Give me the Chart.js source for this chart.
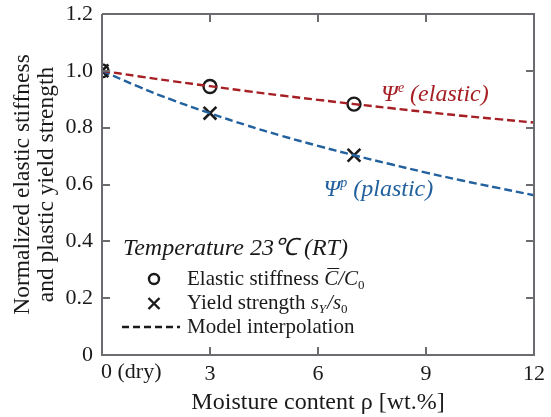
<!DOCTYPE html>
<html lang="en">
<head>
  <meta charset="UTF-8">
  <title>Moisture effect on stiffness and yield strength</title>
  <style>
    body { margin: 0; padding: 0; background: #fff; }
    #wrap { width: 551px; height: 417px; }
  </style>
  <script src="https://cdn.jsdelivr.net/npm/chart.js"></script>
</head>
<body>
  <div id="wrap"><canvas id="moistureChart" width="551" height="417"></canvas></div>

  <script>
    // measured points
    const measuredMoisture = [0, 3, 7];
    const elasticMeasured = [1.0, 0.945, 0.883];
    const yieldMeasured = [1.0, 0.851, 0.703];

    // model curves, sampled every 1 wt.%
    const modelMoisture = [0, 1, 2, 3, 4, 5, 6, 7, 8, 9, 10, 11, 12];
    const elasticModel = [1.0, 0.981, 0.963, 0.946, 0.929, 0.913, 0.898, 0.883, 0.869, 0.855, 0.842, 0.830, 0.818];
    const plasticModel = [1.0, 0.945, 0.895, 0.851, 0.809, 0.771, 0.736, 0.703, 0.672, 0.642, 0.614, 0.588, 0.562];

    const xTicks = [0, 3, 6, 9, 12];
    const yTicks = [0, 0.2, 0.4, 0.6, 0.8, 1.0, 1.2];

    const SERIF = '"Liberation Serif", "Times New Roman", serif';
    const RED = '#a61f24';
    const BLUE = '#23619e';
    const FRAME = 'rgb(108, 108, 112)';
    const INK = '#1a1a1a';

    const toXY = (xs, ys) => xs.map((x, i) => ({ x: x, y: ys[i] }));

    // box with inward ticks, "0 (dry)", curve labels and the key
    const notes = {
      id: 'notes',
      afterDraw(chart) {
        const g = chart.ctx;
        const a = chart.chartArea;
        const sx = chart.scales.x;
        const sy = chart.scales.y;
        const L = Math.round(a.left), R = Math.round(a.right);
        const T = Math.round(a.top), B = Math.round(a.bottom);
        const tl = 8;

        g.save();
        g.setLineDash([]);
        g.globalAlpha = 1;
        g.globalCompositeOperation = 'source-over';
        g.strokeStyle = FRAME;
        g.lineWidth = 2;
        g.beginPath();
        g.moveTo(L, T); g.lineTo(R, T); g.lineTo(R, B); g.lineTo(L, B); g.lineTo(L, T);
        xTicks.forEach(v => {
          const px = Math.round(sx.getPixelForValue(v));
          g.moveTo(px, B); g.lineTo(px, B - tl);
          g.moveTo(px, T); g.lineTo(px, T + tl);
        });
        yTicks.forEach(v => {
          const py = Math.round(sy.getPixelForValue(v));
          g.moveTo(L, py); g.lineTo(L + tl, py);
          g.moveTo(R, py); g.lineTo(R - tl, py);
        });
        g.stroke();

        g.fillStyle = INK;
        g.font = '22px ' + SERIF;
        g.textAlign = 'left';
        g.textBaseline = 'top';
        g.fillText('0 (dry)', sx.getPixelForValue(0) - 1, B + 6);

        // curve labels
        const psiLabel = (x, y, color, sup, word) => {
          g.fillStyle = color;
          g.textBaseline = 'alphabetic';
          g.textAlign = 'left';
          g.font = 'italic 24px ' + SERIF;
          g.fillText('\u03A8', x, y);
          let w = g.measureText('\u03A8').width;
          g.font = 'italic 14px ' + SERIF;
          g.fillText(sup, x + w, y - 9);
          w += g.measureText(sup).width + 6;
          g.font = 'italic 24px ' + SERIF;
          g.fillText(word, x + w, y);
        };
        psiLabel(sx.getPixelForValue(7.75), sy.getPixelForValue(0.893), RED, 'e', '(elastic)');
        psiLabel(sx.getPixelForValue(6.15), sy.getPixelForValue(0.558), BLUE, 'p', '(plastic)');

        // key
        g.fillStyle = INK;
        g.strokeStyle = INK;
        g.textBaseline = 'alphabetic';
        g.font = 'italic 24px ' + SERIF;
        g.fillText('Temperature 23\u2103 (RT)', 123, 255);

        const sym = 154;
        const txt = 187;
        g.lineWidth = 2.4;
        g.beginPath();
        g.arc(sym, 279, 5, 0, Math.PI * 2);
        g.stroke();
        g.beginPath();
        g.moveTo(sym - 5.5, 298); g.lineTo(sym + 5.5, 309);
        g.moveTo(sym + 5.5, 298); g.lineTo(sym - 5.5, 309);
        g.stroke();
        g.setLineDash([7, 4]);
        g.beginPath();
        g.moveTo(122, 327); g.lineTo(180, 327);
        g.stroke();
        g.setLineDash([]);

        g.font = '21px ' + SERIF;
        g.fillText('Elastic stiffness ', txt, 285);
        let w = g.measureText('Elastic stiffness ').width;
        g.font = 'italic 21px ' + SERIF;
        g.fillText('C', txt + w, 285);
        const cw = g.measureText('C').width;
        g.lineWidth = 1;
        g.beginPath();
        g.moveTo(txt + w + 3, 268.5); g.lineTo(txt + w + cw + 1, 268.5);
        g.stroke();
        g.fillText('/C', txt + w + cw, 285);
        w += cw + g.measureText('/C').width;
        g.font = '13px ' + SERIF;
        g.fillText('0', txt + w, 289);

        g.font = '21px ' + SERIF;
        g.fillText('Yield strength ', txt, 309);
        w = g.measureText('Yield strength ').width;
        g.font = 'italic 21px ' + SERIF;
        g.fillText('s', txt + w, 309);
        w += g.measureText('s').width;
        g.font = 'italic 13px ' + SERIF;
        g.fillText('Y', txt + w, 313);
        w += g.measureText('Y').width + 1;
        g.font = 'italic 21px ' + SERIF;
        g.fillText('/s', txt + w, 309);
        w += g.measureText('/s').width;
        g.font = '13px ' + SERIF;
        g.fillText('0', txt + w, 313);

        g.font = '21px ' + SERIF;
        g.fillText('Model interpolation', txt, 333);
        g.restore();
      }
    };

    const ctx = document.getElementById('moistureChart').getContext('2d');
    new Chart(ctx, {
      type: 'scatter',
      data: {
        datasets: [
          {
            label: 'Model elastic',
            data: toXY(modelMoisture, elasticModel),
            showLine: true,
            borderColor: RED,
            borderWidth: 2.4,
            borderDash: [8, 4],
            pointRadius: 0,
            tension: 0.4
          },
          {
            label: 'Model plastic',
            data: toXY(modelMoisture, plasticModel),
            showLine: true,
            borderColor: BLUE,
            borderWidth: 2.4,
            borderDash: [8, 4],
            pointRadius: 0,
            tension: 0.4
          },
          {
            label: 'Elastic stiffness',
            data: toXY(measuredMoisture, elasticMeasured),
            pointStyle: 'circle',
            pointRadius: 6.5,
            borderColor: INK,
            backgroundColor: 'rgba(0,0,0,0)',
            borderWidth: 2.4
          },
          {
            label: 'Yield strength',
            data: toXY(measuredMoisture, yieldMeasured),
            pointStyle: 'crossRot',
            pointRadius: 9,
            borderColor: INK,
            borderWidth: 2.6
          }
        ]
      },
      options: {
        responsive: false,
        animation: false,
        layout: { padding: { top: 14, right: 14, left: 0, bottom: 0 } },
        plugins: {
          legend: { display: false },
          tooltip: { enabled: false }
        },
        scales: {
          x: {
            type: 'linear',
            min: 0,
            max: 12,
            afterBuildTicks: (scale) => { scale.ticks = xTicks.map(v => ({ value: v })); },
            afterFit: (scale) => { scale.height = 62; },
            grid: { display: false, drawTicks: false },
            border: { display: false },
            ticks: {
              padding: 6,
              color: INK,
              font: { family: SERIF, size: 22 },
              callback: (v) => (v === 0 ? '' : String(v))
            },
            title: {
              display: true,
              text: 'Moisture content \u03C1 [wt.%]',
              color: INK,
              font: { family: SERIF, size: 24 },
              padding: { top: 0, bottom: 0 }
            }
          },
          y: {
            min: 0,
            max: 1.2,
            afterBuildTicks: (scale) => { scale.ticks = yTicks.map(v => ({ value: v })); },
            afterFit: (scale) => {
              scale.width = 102;
              scale.paddingTop = 0;
              scale.paddingBottom = 0;
            },
            grid: { display: false, drawTicks: false },
            border: { display: false },
            ticks: {
              padding: 9,
              color: INK,
              font: { family: SERIF, size: 22 },
              callback: (v) => (v === 0 ? '0' : v.toFixed(1))
            },
            title: {
              display: true,
              text: ['Normalized elastic stiffness', 'and plastic yield strength'],
              color: INK,
              font: { family: SERIF, size: 23.5, lineHeight: 1.03 },
              padding: { top: 11, bottom: 4 }
            }
          }
        }
      },
      plugins: [notes]
    });
  </script>
</body>
</html>
